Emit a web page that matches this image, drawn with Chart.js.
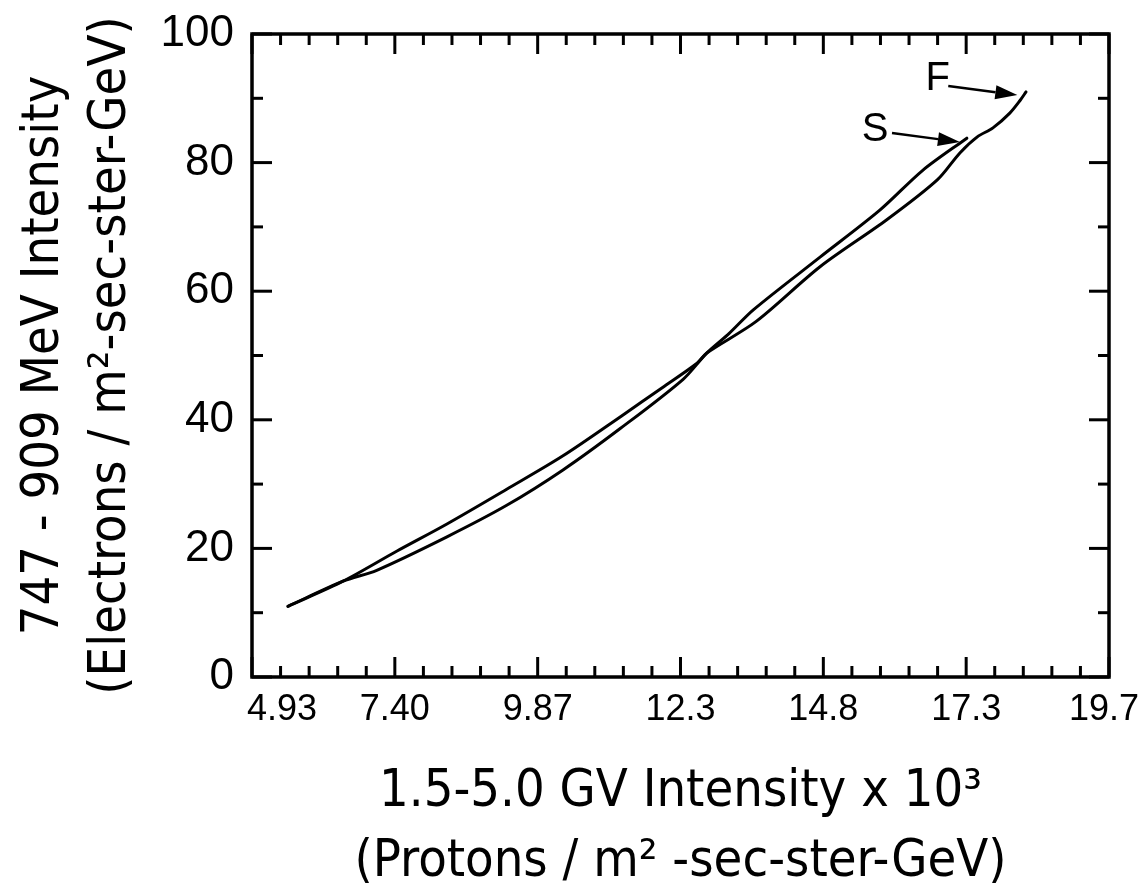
<!DOCTYPE html>
<html>
<head>
<meta charset="utf-8">
<title>Electron vs proton intensity</title>
<script src="https://cdn.jsdelivr.net/npm/chart.js@4"></script>
<style>
  html, body { margin: 0; padding: 0; background: #fff; }
  #wrap { width: 1144px; height: 891px; position: relative; }
</style>
</head>
<body>
<div id="wrap"><canvas id="chart"></canvas></div>
<script>
const INK = '#000';
const TITLE_FONT = "'Liberation Sans Narrow', 'DejaVu Sans Condensed', 'Liberation Sans', sans-serif";
const TICK_FONT = "'Liberation Sans', 'DejaVu Sans', sans-serif";

// axes
const X_MIN = 4.93;
const X_MAX = 19.7;
const X_TICK_LABELS = ['4.93', '7.40', '9.87', '12.3', '14.8', '17.3', '19.7'];
const Y_TICKS = [0, 20, 40, 60, 80, 100];
const Y_MINOR = [10, 30, 50, 70, 90];

// leg from S down to the turn-around
const S_LEG_X = [17.25, 16.49, 15.75, 14.72, 13.57, 13.15, 12.77, 12.36, 11.27, 10.29, 9.32, 8.29, 7.08, 6.50, 5.55];
const S_LEG_Y = [83.8, 78.8, 72.6, 65.3, 57.1, 53.4, 50.4, 46.3, 38.6, 32.2, 26.7, 21.8, 16.6, 14.9, 11.0];

// leg from the turn-around up to F
const F_LEG_X = [5.55, 6.50, 7.43, 8.29, 9.32, 10.29, 11.30, 12.00, 12.60, 12.77, 13.62, 14.72, 15.87, 16.74, 17.13, 17.43, 17.70, 17.99, 18.17, 18.27];
const F_LEG_Y = [11.0, 14.9, 19.6, 23.8, 29.2, 34.4, 40.6, 45.0, 48.8, 50.4, 55.3, 63.8, 71.1, 77.3, 81.5, 84.0, 85.4, 87.7, 89.7, 91.0];

// end labels and their arrows (data units)
const END_LABELS = ['S', 'F'];
const END_LABEL_X = [15.67, 16.75];
const END_LABEL_Y = [85.1, 93.0];
const ARROW_FROM_X = [15.96, 16.93];
const ARROW_FROM_Y = [84.6, 91.9];
const ARROW_TO_X = [17.13, 18.12];
const ARROW_TO_Y = [83.2, 90.5];

const X_STEP = (X_MAX - X_MIN) / (X_TICK_LABELS.length - 1);
const xMajor = X_TICK_LABELS.map((_, i) => X_MIN + i * X_STEP);
const xMinor = [];
for (let i = 0; i < xMajor.length - 1; i++) {
  for (let k = 1; k < 5; k++) xMinor.push(xMajor[i] + (k * X_STEP) / 5);
}

const toPoints = (xs, ys) => xs.map((x, i) => ({ x, y: ys[i] }));

const lineStyle = {
  showLine: true,
  borderColor: INK,
  backgroundColor: INK,
  borderWidth: 3,
  pointRadius: 0,
  tension: 0.3,
  borderCapStyle: 'round',
  borderJoinStyle: 'round',
  fill: false,
};

// inward tick marks on all four sides plus the box
const frame = {
  id: 'frame',
  afterDraw(chart) {
    const { ctx, chartArea: a, scales: { x, y } } = chart;
    const MAJOR = 20;
    const MINOR = 11;
    const seg = (x1, y1, x2, y2) => {
      ctx.beginPath();
      ctx.moveTo(x1, y1);
      ctx.lineTo(x2, y2);
      ctx.stroke();
    };
    ctx.save();
    ctx.strokeStyle = INK;
    ctx.lineWidth = 3.5;
    ctx.strokeRect(a.left, a.top, a.right - a.left, a.bottom - a.top);
    ctx.lineWidth = 3;
    const xTick = (v, len) => {
      const px = x.getPixelForValue(v);
      seg(px, a.bottom, px, a.bottom - len);
      seg(px, a.top, px, a.top + len);
    };
    const yTick = (v, len) => {
      const py = y.getPixelForValue(v);
      seg(a.left, py, a.left + len, py);
      seg(a.right, py, a.right - len, py);
    };
    xMajor.forEach((v) => xTick(v, MAJOR));
    xMinor.forEach((v) => xTick(v, MINOR));
    Y_TICKS.forEach((v) => yTick(v, MAJOR));
    Y_MINOR.forEach((v) => yTick(v, MINOR));
    ctx.restore();
  },
  afterDatasetsDraw(chart) {
    const { ctx, scales: { x, y } } = chart;
    ctx.save();
    ctx.fillStyle = INK;
    ctx.strokeStyle = INK;
    ctx.lineWidth = 2.5;
    ctx.font = `40px ${TICK_FONT}`;
    ctx.textAlign = 'center';
    ctx.textBaseline = 'middle';
    END_LABELS.forEach((t, i) => {
      ctx.fillText(t, x.getPixelForValue(END_LABEL_X[i]), y.getPixelForValue(END_LABEL_Y[i]));
      const x1 = x.getPixelForValue(ARROW_FROM_X[i]);
      const y1 = y.getPixelForValue(ARROW_FROM_Y[i]);
      const x2 = x.getPixelForValue(ARROW_TO_X[i]);
      const y2 = y.getPixelForValue(ARROW_TO_Y[i]);
      const ang = Math.atan2(y2 - y1, x2 - x1);
      const hl = 22;
      const hw = 7;
      const bx = x2 - hl * Math.cos(ang);
      const by = y2 - hl * Math.sin(ang);
      ctx.beginPath();
      ctx.moveTo(x1, y1);
      ctx.lineTo(bx, by);
      ctx.stroke();
      ctx.beginPath();
      ctx.moveTo(x2, y2);
      ctx.lineTo(bx + hw * Math.sin(ang), by - hw * Math.cos(ang));
      ctx.lineTo(bx - hw * Math.sin(ang), by + hw * Math.cos(ang));
      ctx.closePath();
      ctx.fill();
    });
    ctx.restore();
  },
};

new Chart(document.getElementById('chart'), {
  type: 'scatter',
  data: {
    datasets: [
      { label: 'S', data: toPoints(S_LEG_X, S_LEG_Y), ...lineStyle },
      { label: 'F', data: toPoints(F_LEG_X, F_LEG_Y), ...lineStyle },
    ],
  },
  options: {
    responsive: true,
    maintainAspectRatio: false,
    animation: false,
    layout: { padding: { top: 34, right: 35, left: 0, bottom: 0 } },
    plugins: { legend: { display: false }, tooltip: { enabled: false } },
    scales: {
      x: {
        type: 'linear',
        min: X_MIN,
        max: X_MAX,
        afterBuildTicks: (s) => { s.ticks = xMajor.map((value) => ({ value })); },
        afterFit: (s) => {
          s.height = 214;
          s.paddingLeft = 0;
          s.paddingRight = 0;
        },
        grid: { display: false },
        border: { display: false },
        ticks: {
          autoSkip: false,
          maxRotation: 0,
          padding: 3,
          color: INK,
          font: { family: TICK_FONT, size: 36 },
          // end labels nudged inward, as on the original
          callback: (v, i) => {
            if (i === 0) return '      ' + X_TICK_LABELS[i];
            if (i === X_TICK_LABELS.length - 1) return X_TICK_LABELS[i] + ' ';
            return X_TICK_LABELS[i];
          },
        },
        title: {
          display: true,
          text: ['1.5-5.0 GV Intensity x 10³', '(Protons / m² -sec-ster-GeV)'],
          color: INK,
          font: { family: TITLE_FONT, size: 52, lineHeight: 1.346 },
          padding: { top: 0, bottom: -6 },
        },
      },
      y: {
        type: 'linear',
        min: 0,
        max: 100,
        afterFit: (s) => {
          s.width = 252;
          s.paddingTop = 0;
          s.paddingBottom = 0;
        },
        grid: { display: false },
        border: { display: false },
        ticks: {
          stepSize: 20,
          padding: 10,
          color: INK,
          font: { family: TICK_FONT, size: 44 },
        },
        title: {
          display: true,
          text: ['747 - 909 MeV Intensity', '(Electrons / m²-sec-ster-GeV)'],
          color: INK,
          font: { family: TITLE_FONT, size: 52, lineHeight: 1.29 },
          padding: { top: 11, bottom: 0 },
        },
      },
    },
  },
  plugins: [frame],
});
</script>
</body>
</html>
